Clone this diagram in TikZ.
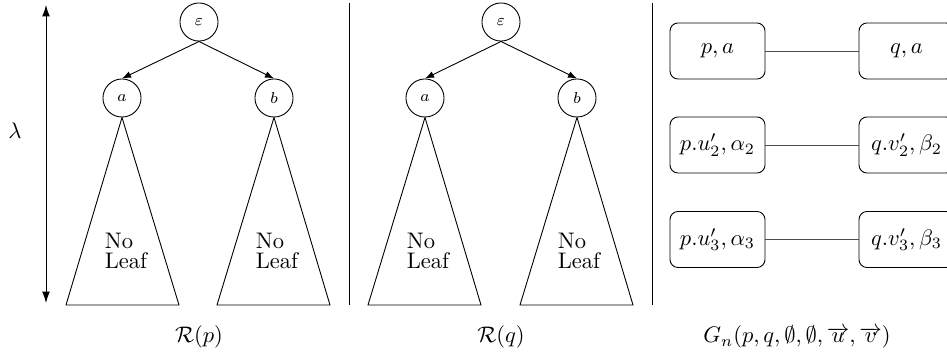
\documentclass[tikz,border=0pt]{standalone}
\usetikzlibrary{arrows.meta}
\begin{document}
\begin{tikzpicture}[x=0.444pt,y=-0.444pt,
  circ/.style={draw,circle,minimum size=16.9pt,inner sep=0pt,font=\scriptsize},
  tri/.style={draw},
  sep/.style={draw},
  leaf/.style={align=left,inner sep=0pt},
  pairbox/.style={draw,rounded corners=3.6pt,minimum width=42.2pt,minimum height=24.9pt,inner sep=1pt},
  link/.style={draw,gray!60!black},
  tedge/.style={-{Latex[length=4pt,width=3pt]}},
  lamarrow/.style={{Latex[length=5pt,width=3.4pt]}-{Latex[length=5pt,width=3.4pt]}}]
\clip (0,0) rectangle (947,354);
\useasboundingbox (0,0) rectangle (947,354);
% lambda
\coordinate (lt) at (46,5);
\coordinate (lb) at (46,303);
\draw[lamarrow] (lt) -- (lb);
\node (lam) at (15,131) {$\lambda$};
% left tree
\node[circ] (e1) at (199,22) {$\varepsilon$};
\node[circ] (a1) at (122,98) {$a$};
\node[circ] (b1) at (274,98) {$b$};
\draw[tedge] (e1.south) -- (a1.north);
\draw[tedge] (e1.south) -- (b1.north);
\coordinate (a1l) at (66,305); \coordinate (a1r) at (179,305);
\coordinate (b1l) at (217,305); \coordinate (b1r) at (330,305);
\draw[tri] (a1.south) -- (a1l) -- (a1r) -- cycle;
\draw[tri] (b1.south) -- (b1l) -- (b1r) -- cycle;
\node[leaf] (t1) at (126,251) {No\\[-3pt]Leaf};
\node[leaf] (t2) at (277,251) {No\\[-3pt]Leaf};
\node (rp) at (199,337) {$\mathcal{R}(p)$};
% separators
\coordinate (s1t) at (349,3); \coordinate (s1b) at (349,305);
\coordinate (s2t) at (652,3); \coordinate (s2b) at (652,305);
\draw[sep] (s1t) -- (s1b);
\draw[sep] (s2t) -- (s2b);
% middle tree
\node[circ] (e2) at (501,22) {$\varepsilon$};
\node[circ] (a2) at (425,98) {$a$};
\node[circ] (b2) at (577,98) {$b$};
\draw[tedge] (e2.south) -- (a2.north);
\draw[tedge] (e2.south) -- (b2.north);
\coordinate (a2l) at (368,305); \coordinate (a2r) at (481,305);
\coordinate (b2l) at (520,305); \coordinate (b2r) at (633,305);
\draw[tri] (a2.south) -- (a2l) -- (a2r) -- cycle;
\draw[tri] (b2.south) -- (b2l) -- (b2r) -- cycle;
\node[leaf] (t3) at (428,251) {No\\[-3pt]Leaf};
\node[leaf] (t4) at (579,251) {No\\[-3pt]Leaf};
\node (rq) at (501,337) {$\mathcal{R}(q)$};
% boxes
\node[pairbox] (l1) at (717.5,51) {$p,a$};
\node[pairbox] (l2) at (717.5,145) {$p.u'_2,\alpha_2$};
\node[pairbox] (l3) at (717.5,239.5) {$p.u'_3,\alpha_3$};
\node[pairbox] (r1) at (906.5,51) {$q,a$};
\node[pairbox] (r2) at (906.5,145) {$q.v'_2,\beta_2$};
\node[pairbox] (r3) at (906.5,239.5) {$q.v'_3,\beta_3$};
\draw[link] (l1.east) -- (r1.west);
\draw[link] (l2.east) -- (r2.west);
\draw[link] (l3.east) -- (r3.west);
\node (gn) at (797,337) {$G_n(p,q,\emptyset,\emptyset,\overrightarrow{u},\overrightarrow{v})$};
\end{tikzpicture}
\end{document}
